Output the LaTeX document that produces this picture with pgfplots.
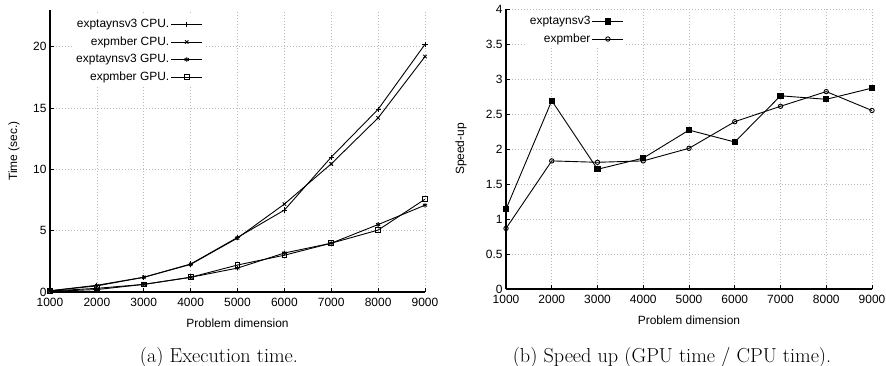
\documentclass[border=0pt]{standalone}
\usepackage{fontspec}
\usepackage{pgfplots}
\pgfplotsset{compat=1.18}
\newfontfamily\plotfont{Liberation Sans}
\newcommand\pf{\plotfont\fontsize{12}{14}\selectfont}
\pgfplotsset{
  gp/.style={
    scale only axis,
    xmin=1000, xmax=9000, ymin=0,
    axis x line*=bottom, axis y line*=left,
    axis line style={-, line width=1.2bp},
    tick align=inside,
    major tick length=4bp,
    tick style={line width=0.8bp, black},
    xtick={1000,2000,...,9000},
    grid=major,
    major grid style={line width=0.6bp, gray!55, dash pattern=on 0.8bp off 2.2bp},
    /pgf/number format/assume math mode=true,
    /pgf/number format/1000 sep={},
    tick label style={font=\pf},
    xticklabel style={yshift=-3bp},
    label style={font=\pf},
    xlabel style={yshift=-5bp},
    xlabel={Problem dimension},
    legend cell align=right,
    legend plot pos=right,
    legend style={draw=none, fill=white, font=\pf, inner sep=2bp,
      nodes={inner sep=1.5bp, text height=9bp, text depth=2.5bp}, row sep=3bp},
    legend image code/.code={\draw[mark repeat=2,mark phase=2,#1] plot coordinates {(0bp,0bp) (15.5bp,0bp) (31bp,0bp)};},
    every mark/.append style={solid, line width=0.8bp},
  }
}
\begin{document}
\begin{tikzpicture}
\useasboundingbox (0,0) rectangle (886bp,366bp);
\begin{axis}[gp,
  at={(50bp,74bp)}, anchor=south west,
  width=375bp, height=282bp,
  ymax=23, ytick={0,5,10,15,20},
  ylabel={Time (sec.)},
  ylabel style={at={(axis description cs:-0.096,0.5)}, anchor=center},
  legend style={at={(0.413,0.982)}, anchor=north east},
]
\addplot[black, line width=0.9bp, mark=+, mark size=2.6bp] coordinates {(1000,0.1)(2000,0.55)(3000,1.2)(4000,2.28)(5000,4.45)(6000,6.68)(7000,11.0)(8000,14.9)(9000,20.2)};
\addlegendentry{exptaynsv3 CPU.}
\addplot[black, line width=0.9bp, mark=x, mark size=2.4bp] coordinates {(1000,0.1)(2000,0.5)(3000,1.2)(4000,2.25)(5000,4.4)(6000,7.17)(7000,10.45)(8000,14.2)(9000,19.2)};
\addlegendentry{expmber CPU.}
\addplot[black, line width=0.9bp, mark=asterisk, mark size=2.4bp] coordinates {(1000,0.05)(2000,0.2)(3000,0.62)(4000,1.2)(5000,1.95)(6000,3.18)(7000,3.98)(8000,5.5)(9000,7.08)};
\addlegendentry{exptaynsv3 GPU.}
\addplot[black, line width=0.9bp, mark=square, mark size=2.4bp] coordinates {(1000,0.08)(2000,0.3)(3000,0.62)(4000,1.2)(5000,2.2)(6000,3.0)(7000,3.98)(8000,5.05)(9000,7.57)};
\addlegendentry{expmber GPU.}
\end{axis}
\begin{axis}[gp,
  at={(506bp,77bp)}, anchor=south west,
  width=366bp, height=280bp,
  ymax=4, ytick={0,0.5,...,4},
  ylabel={Speed-up},
  ylabel style={at={(axis description cs:-0.123,0.5)}, anchor=center},
  legend style={at={(0.328,0.989)}, anchor=north east},
]
\addplot[black, line width=0.9bp, mark=square*, mark size=2.6bp] coordinates {(1000,1.14)(2000,2.69)(3000,1.71)(4000,1.87)(5000,2.27)(6000,2.10)(7000,2.76)(8000,2.71)(9000,2.87)};
\addlegendentry{exptaynsv3}
\addplot[black, line width=0.9bp, mark=o, mark size=2.2bp] coordinates {(1000,0.865)(2000,1.83)(3000,1.81)(4000,1.83)(5000,2.01)(6000,2.39)(7000,2.61)(8000,2.82)(9000,2.55)};
\addlegendentry{expmber}
\end{axis}
\node[anchor=base, font=\fontsize{20.3}{24}\selectfont, inner sep=0] at (219bp,3.5bp) {(a) Execution time.};
\node[anchor=base, font=\fontsize{20.3}{24}\selectfont, inner sep=0] at (672bp,3.5bp) {(b) Speed up (GPU time / CPU time).};
\end{tikzpicture}
\end{document}
